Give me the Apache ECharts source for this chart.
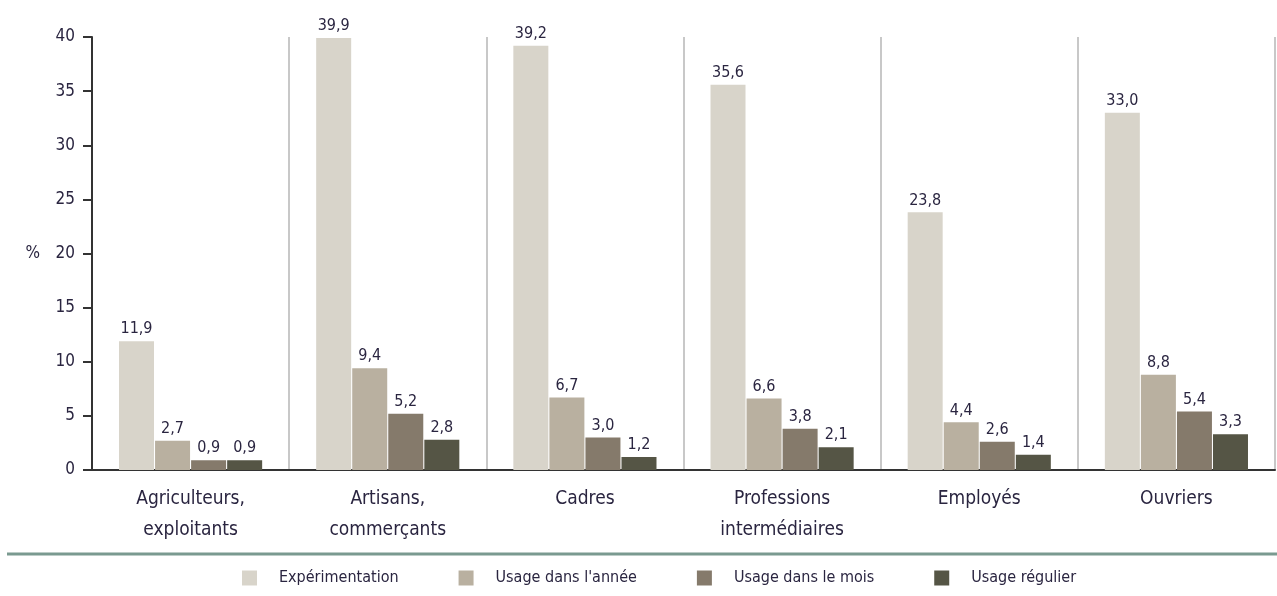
<!DOCTYPE html>
<html>
<head>
<meta charset="utf-8">
<script src="https://cdn.jsdelivr.net/npm/echarts@6/dist/echarts.min.js"></script>
<style>
  html, body { margin: 0; padding: 0; background: #fff; }
  #chart { width: 1277px; height: 596px; }
</style>
</head>
<body>
<div id="chart"></div>
<script>
// categories
var categories = ['Agriculteurs,\nexploitants', 'Artisans,\ncommerçants', 'Cadres',
  'Professions\nintermédiaires', 'Employés', 'Ouvriers'];

// series values (%)
var experimentation = [11.9, 39.9, 39.2, 35.6, 23.8, 33.0];
var usageAnnee = [2.7, 9.4, 6.7, 6.6, 4.4, 8.8];
var usageMois = [0.9, 5.2, 3.0, 3.8, 2.6, 5.4];
var usageRegulier = [0.9, 2.8, 1.2, 2.1, 1.4, 3.3];

var seriesNames = ['Expérimentation', "Usage dans l'année", 'Usage dans le mois', 'Usage régulier'];
var colors = ['#d8d4ca', '#b9b0a0', '#857a6b', '#555545'];

var font = '"DejaVu Sans Condensed", sans-serif';
var textColor = '#2a2540';

var chart = echarts.init(document.getElementById('chart'));

function makeSeries(name, data, color) {
  return {
    name: name,
    type: 'bar',
    data: data,
    barWidth: 35,
    barGap: '3%',
    itemStyle: { color: color },
    label: {
      show: true,
      position: 'top',
      distance: 4,
      color: textColor,
      fontFamily: font,
      fontSize: 16,
      formatter: function (p) {
        return p.value.toFixed(1).replace('.', ',');
      }
    }
  };
}

var option = {
  animation: false,
  color: colors,
  grid: { left: 92, right: 2, top: 37, bottom: 126, containLabel: false },
  legend: {
    bottom: 5,
    left: 237,
    itemWidth: 15,
    itemHeight: 15,
    itemGap: 60,
    icon: 'rect',
    textStyle: { color: textColor, fontFamily: font, fontSize: 16, padding: [0, 0, 0, 17] },
    data: seriesNames
  },
  xAxis: {
    type: 'category',
    data: categories,
    axisLine: { lineStyle: { color: '#333', width: 2 } },
    axisTick: { show: false },
    splitLine: { show: true, lineStyle: { color: '#c8c8c8', width: 2 } },
    axisLabel: {
      color: textColor,
      fontFamily: font,
      fontSize: 19,
      lineHeight: 31,
      margin: 14,
      interval: 0
    }
  },
  yAxis: {
    type: 'value',
    min: 0,
    max: 40,
    interval: 5,
    name: '%',
    nameLocation: 'middle',
    nameRotate: 0,
    nameGap: 52,
    nameTextStyle: { color: textColor, fontFamily: font, fontSize: 17 },
    axisLine: { show: true, lineStyle: { color: '#333', width: 2 } },
    axisTick: { show: true, length: 9, lineStyle: { color: '#333', width: 2 } },
    splitLine: { show: false },
    axisLabel: { color: textColor, fontFamily: font, fontSize: 17, margin: 17 }
  },
  graphic: [{
    type: 'line',
    shape: { x1: 7, y1: 554, x2: 1277, y2: 554 },
    style: { stroke: '#7a9a90', lineWidth: 3 }
  }],
  series: [
    makeSeries(seriesNames[0], experimentation, colors[0]),
    makeSeries(seriesNames[1], usageAnnee, colors[1]),
    makeSeries(seriesNames[2], usageMois, colors[2]),
    makeSeries(seriesNames[3], usageRegulier, colors[3])
  ]
};

chart.setOption(option);
</script>
</body>
</html>
